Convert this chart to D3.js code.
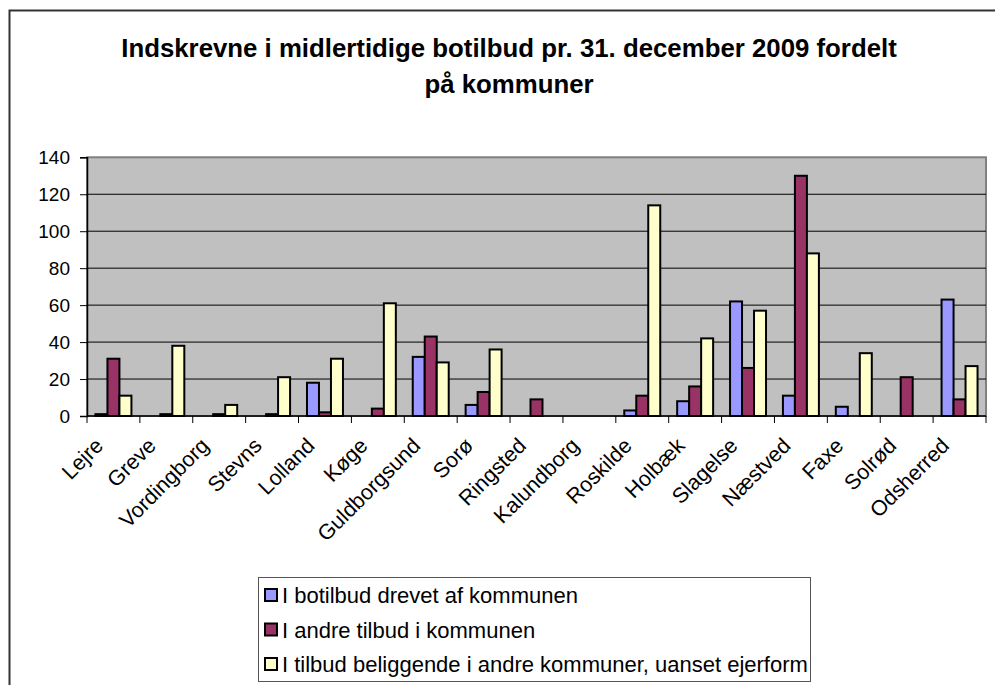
<!DOCTYPE html>
<html>
<head>
<meta charset="utf-8">
<script src="https://cdn.jsdelivr.net/npm/d3@7/dist/d3.min.js"></script>
<style>
  html, body { margin: 0; padding: 0; background: #ffffff; }
  svg { display: block; font-family: Arial, "Liberation Sans", sans-serif; }
</style>
</head>
<body>
<svg id="chart" width="995" height="685"></svg>
<script>
// Municipalities (x categories)
const categories = ["Lejre", "Greve", "Vordingborg", "Stevns", "Lolland", "Køge",
  "Guldborgsund", "Sorø", "Ringsted", "Kalundborg", "Roskilde", "Holbæk",
  "Slagelse", "Næstved", "Faxe", "Solrød", "Odsherred"];

// Series names
const seriesNames = [
  "I botilbud drevet af kommunen",
  "I andre tilbud i kommunen",
  "I tilbud beliggende i andre kommuner, uanset ejerform"
];

// Values per series, in category order
const drevetAfKommunen = [1, 0, 0, 0, 18, 0, 32, 6, 0, 0, 3, 8, 62, 11, 5, 0, 63];
const andreTilbud      = [31, 1, 1, 1, 2, 4, 43, 13, 9, 0, 11, 16, 26, 130, 0, 21, 9];
const andreKommuner    = [11, 38, 6, 21, 31, 61, 29, 36, 0, 0, 114, 42, 57, 88, 34, 0, 27];

const yTicks = [0, 20, 40, 60, 80, 100, 120, 140];
const seriesColors = ["#9999FF", "#993366", "#FFFFCC"];

const titleLines = ["Indskrevne i midlertidige botilbud pr. 31. december 2009 fordelt", "på kommuner"];

const seriesValues = [drevetAfKommunen, andreTilbud, andreKommuner];

const svg = d3.select("#chart");

// Outer chart frame
svg.append("rect")
  .attr("x", 9.5).attr("y", 10.5)
  .attr("width", 1010).attr("height", 700)
  .attr("fill", "#ffffff")
  .attr("stroke", "#333333")
  .attr("stroke-width", 2);

// Title
const title = svg.append("text")
  .attr("text-anchor", "middle")
  .attr("font-weight", "bold")
  .attr("font-size", 25.8)
  .attr("fill", "#000");
titleLines.forEach((line, i) => {
  title.append("tspan").attr("x", 509).attr("y", 57 + i * 36).text(line);
});

// Plot area
const plot = { left: 87, right: 986, top: 157.3, bottom: 416 };

const x0 = d3.scaleBand().domain(categories).range([plot.left, plot.right]).paddingInner(0).paddingOuter(0);
const x1 = d3.scaleBand().domain(d3.range(seriesNames.length))
  .range([0, x0.bandwidth()]).paddingInner(0).paddingOuter(0.705);
const y = d3.scaleLinear().domain([0, 140]).range([plot.bottom, plot.top]);

svg.append("rect")
  .attr("x", plot.left).attr("y", plot.top)
  .attr("width", plot.right - plot.left).attr("height", plot.bottom - plot.top)
  .attr("fill", "#C0C0C0")
  .attr("stroke", "#808080")
  .attr("stroke-width", 2);

// Horizontal gridlines
svg.append("g")
  .selectAll("line")
  .data(yTicks.filter(t => t > 0 && t < 140))
  .join("line")
  .attr("x1", plot.left).attr("x2", plot.right)
  .attr("y1", d => y(d)).attr("y2", d => y(d))
  .attr("stroke", "#000").attr("stroke-width", 1);

// Bars
const groups = svg.append("g")
  .selectAll("g")
  .data(categories)
  .join("g")
  .attr("transform", d => `translate(${x0(d)},0)`);

groups.selectAll("rect")
  .data((c, ci) => seriesValues.map((vals, si) => ({ si, v: vals[ci] })).filter(d => d.v > 0))
  .join("rect")
  .attr("x", d => x1(d.si))
  .attr("y", d => y(d.v))
  .attr("width", x1.bandwidth())
  .attr("height", d => y(0) - y(d.v))
  .attr("fill", d => seriesColors[d.si])
  .attr("stroke", "#000")
  .attr("stroke-width", 2);

// Y axis
const yAxis = d3.axisLeft(y).tickValues(yTicks).tickSize(7).tickPadding(10).tickFormat(d3.format("d"));
const yg = svg.append("g").attr("transform", `translate(${plot.left},0)`).call(yAxis);
yg.select(".domain").attr("stroke", "#000").attr("stroke-width", 1.5);
yg.selectAll(".tick line").attr("stroke", "#000");
yg.selectAll(".tick text").attr("font-size", 19).attr("fill", "#000")
  .attr("font-family", "Arial, 'Liberation Sans', sans-serif");

// X axis: tick marks at category boundaries
const xg = svg.append("g");
xg.append("line")
  .attr("x1", plot.left).attr("x2", plot.right)
  .attr("y1", plot.bottom).attr("y2", plot.bottom)
  .attr("stroke", "#000").attr("stroke-width", 1.5);
xg.selectAll("line.tk")
  .data(categories.concat(["__end"]))
  .join("line")
  .attr("class", "tk")
  .attr("x1", (d, i) => plot.left + i * x0.step())
  .attr("x2", (d, i) => plot.left + i * x0.step())
  .attr("y1", plot.bottom).attr("y2", plot.bottom + 7)
  .attr("stroke", "#000");

// Rotated category labels
xg.selectAll("text")
  .data(categories)
  .join("text")
  .attr("text-anchor", "end")
  .attr("font-size", 21.5)
  .attr("fill", "#000")
  .attr("transform", d => `translate(${x0(d) + x0.bandwidth() / 2 - 9},${plot.bottom + 31}) rotate(-45)`)
  .text(d => d);

// Legend
const legend = svg.append("g");
legend.append("rect")
  .attr("x", 258.5).attr("y", 577.5)
  .attr("width", 552).attr("height", 104)
  .attr("fill", "#fff")
  .attr("stroke", "#555").attr("stroke-width", 1);

const rows = legend.selectAll("g.row")
  .data(seriesNames)
  .join("g")
  .attr("class", "row")
  .attr("transform", (d, i) => `translate(0,${595 + i * 34.5})`);
rows.append("rect")
  .attr("x", 265).attr("y", -6)
  .attr("width", 12).attr("height", 12)
  .attr("fill", (d, i) => seriesColors[i])
  .attr("stroke", "#000").attr("stroke-width", 2);
rows.append("text")
  .attr("x", 282).attr("y", 8)
  .attr("font-size", 22)
  .attr("fill", "#000")
  .text(d => d);
</script>
</body>
</html>
